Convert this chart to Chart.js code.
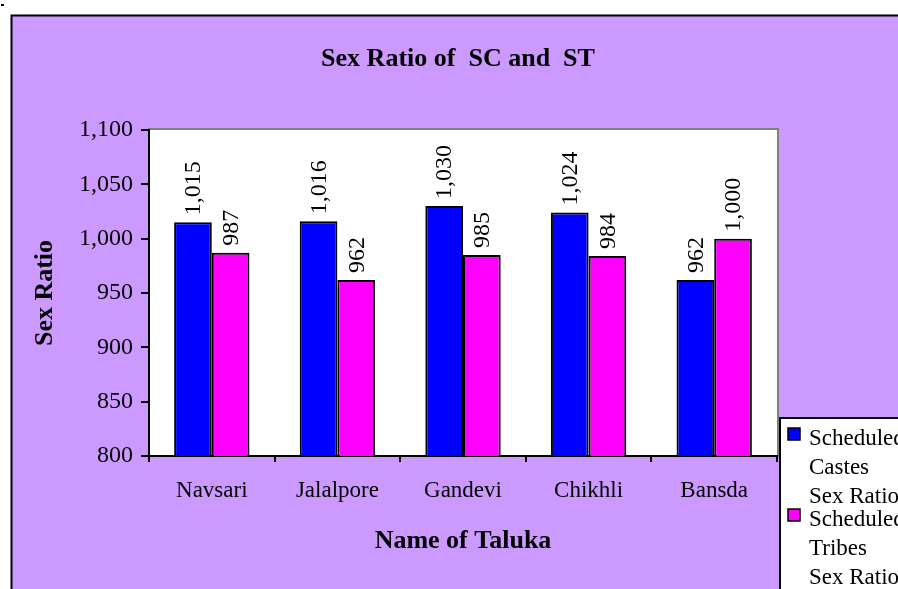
<!DOCTYPE html>
<html>
<head>
<meta charset="utf-8">
<script src="https://cdn.jsdelivr.net/npm/chart.js@4.4.0/dist/chart.umd.min.js"></script>
<style>
  html, body { margin: 0; padding: 0; background: #fff; }
  #wrap { width: 898px; height: 589px; position: relative; }
</style>
</head>
<body>
<div id="wrap"><canvas id="chart"></canvas></div>
<script>
/******** DATA ********/
const talukas = ["Navsari", "Jalalpore", "Gandevi", "Chikhli", "Bansda"];
const scRatio = [1015, 1016, 1030, 1024, 962];
const stRatio = [987, 962, 985, 984, 1000];
const seriesNames = ["Scheduled Castes Sex Ratio", "Scheduled Tribes Sex Ratio"];
const legendLines = [["Scheduled", "Castes", "Sex Ratio"], ["Scheduled", "Tribes", "Sex Ratio"]];
const yMin = 800, yMax = 1100, yStep = 50;
const chartTitle = "Sex Ratio of  SC and  ST";

/******** LOOK ********/
const PURPLE = "#CC99FF";
const SERIF = "'Liberation Serif', 'Times New Roman', serif";
const fmt = v => v.toLocaleString("en-US");

/******** PLUGINS ********/
const framePlugin = {
  id: "frame",
  beforeDraw(chart) {
    const { ctx, chartArea: a } = chart;
    ctx.save();
    ctx.fillStyle = "#fff";
    ctx.fillRect(0, 0, chart.width, chart.height);
    ctx.fillStyle = "#000";
    ctx.fillRect(1, 4, 3, 2);
    // outer purple panel, cut off right and bottom
    ctx.fillStyle = PURPLE;
    ctx.fillRect(11, 15, chart.width, chart.height);
    ctx.strokeStyle = "#000";
    ctx.lineWidth = 2;
    ctx.beginPath();
    ctx.moveTo(11.5, chart.height + 5);
    ctx.lineTo(11.5, 15.5);
    ctx.lineTo(chart.width + 5, 15.5);
    ctx.stroke();
    // plot area
    ctx.fillStyle = "#fff";
    ctx.fillRect(a.left, a.top, a.right - a.left, a.bottom - a.top);
    ctx.strokeStyle = "#808080";
    ctx.lineWidth = 2;
    ctx.strokeRect(a.left, a.top - 1, a.right - a.left + 1, a.bottom - a.top + 1);
    ctx.restore();
  },
  afterDraw(chart) {
    const { ctx } = chart;
    ctx.save();
    // title
    ctx.fillStyle = "#000";
    ctx.font = "bold 26px " + SERIF;
    ctx.textAlign = "center";
    ctx.textBaseline = "alphabetic";
    ctx.fillText(chartTitle, 458, 66);
    // legend (cut off by the picture edge)
    ctx.fillStyle = "#fff";
    ctx.fillRect(780, 418, 200, 300);
    ctx.strokeStyle = "#000";
    ctx.lineWidth = 2;
    ctx.strokeRect(780, 418, 200, 300);
    ctx.font = "23px " + SERIF;
    ctx.textAlign = "left";
    chart.data.datasets.forEach((ds, i) => {
      const base = 445 + i * 81;
      ctx.fillStyle = ds.backgroundColor;
      ctx.fillRect(788, base - 17, 12, 12);
      ctx.lineWidth = 1.5;
      ctx.strokeStyle = "#000";
      ctx.strokeRect(788, base - 17, 12, 12);
      ctx.fillStyle = "#000";
      legendLines[i].forEach((t, j) => ctx.fillText(t, 809, base + j * 29));
    });
    ctx.restore();
  },
  afterDatasetsDraw(chart) {
    const { ctx } = chart;
    ctx.save();
    ctx.fillStyle = "#000";
    ctx.font = "24px " + SERIF;
    ctx.textAlign = "left";
    ctx.textBaseline = "middle";
    chart.data.datasets.forEach((ds, i) => {
      chart.getDatasetMeta(i).data.forEach((bar, j) => {
        ctx.save();
        ctx.translate(bar.x + 1, bar.y - 7);
        ctx.rotate(-Math.PI / 2);
        ctx.fillText(fmt(ds.data[j]), 0, 0);
        ctx.restore();
      });
    });
    ctx.restore();
  }
};

/******** CHART ********/
new Chart(document.getElementById("chart"), {
  type: "bar",
  data: {
    labels: talukas,
    datasets: [
      { label: seriesNames[0], data: scRatio, backgroundColor: "#0000FF", borderColor: "#000", borderWidth: 2 },
      { label: seriesNames[1], data: stRatio, backgroundColor: "#FF00FF", borderColor: "#000", borderWidth: 2 }
    ]
  },
  options: {
    responsive: true,
    maintainAspectRatio: false,
    animation: false,
    devicePixelRatio: 1,
    layout: { padding: { left: 0, top: 130, right: 121, bottom: 0 } },
    datasets: { bar: { categoryPercentage: 0.6, barPercentage: 1 } },
    plugins: { legend: { display: false }, title: { display: false }, tooltip: { enabled: false } },
    scales: {
      x: {
        afterFit: s => { s.height = 133; },
        grid: { display: true, offset: true, drawOnChartArea: false, drawTicks: true, tickLength: 6, color: "#000", lineWidth: 2 },
        border: { display: true, color: "#000", width: 2 },
        ticks: { color: "#000", font: { family: SERIF, size: 23 }, padding: 15, maxRotation: 0 },
        title: { display: true, text: "Name of Taluka", color: "#000", font: { family: SERIF, size: 26, weight: "bold" }, padding: { top: 0, bottom: 32 } }
      },
      y: {
        min: yMin,
        max: yMax,
        afterFit: s => { s.width = 149; },
        grid: { display: true, drawOnChartArea: false, drawTicks: true, tickLength: 8, color: "#000", lineWidth: 2 },
        border: { display: true, color: "#000", width: 2 },
        ticks: { stepSize: yStep, color: "#000", font: { family: SERIF, size: 24 }, padding: 8, callback: v => fmt(v) },
        title: { display: true, text: "Sex Ratio", color: "#000", font: { family: SERIF, size: 26, weight: "bold" }, padding: { top: 30, bottom: 0 } }
      }
    }
  },
  plugins: [framePlugin]
});
</script>
</body>
</html>
